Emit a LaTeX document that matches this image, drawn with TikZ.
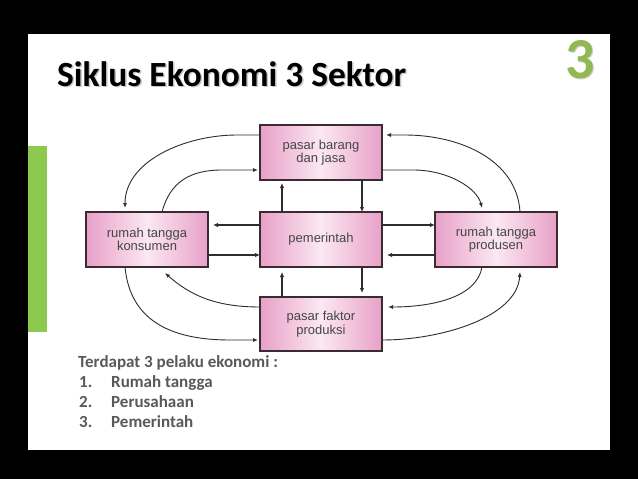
\documentclass[tikz,border=0pt]{standalone}
\usepackage{fontspec}
\setmainfont{Carlito}
\newfontfamily\boxfont{Liberation Sans}
\usetikzlibrary{arrows.meta}
\definecolor{slidegreen}{RGB}{141,200,79}
\definecolor{numgreen}{RGB}{146,184,82}
\definecolor{pinkedge}{RGB}{232,160,200}
\definecolor{pinkmid}{RGB}{251,232,242}
\definecolor{boxline}{RGB}{60,42,51}
\definecolor{boxtext}{RGB}{70,70,70}
\definecolor{listgray}{RGB}{89,89,89}
\definecolor{arrowcol}{RGB}{45,45,45}
\tikzset{
  pbox/.style={draw=boxline, line width=1.3pt, left color=pinkedge, right color=pinkedge, middle color=pinkmid,
    minimum width=122pt, minimum height=55pt, inner sep=0pt, outer sep=0pt,
    align=center, text=boxtext, font=\boxfont\fontsize{13}{13.5}\selectfont},
  curv/.style={draw=arrowcol, line width=0.9pt, -{Latex[length=5pt,width=4pt]}},
  strt/.style={draw=arrowcol, line width=1.4pt, -{Latex[length=5pt,width=4.5pt]}},
  listtxt/.style={text=listgray, font=\bfseries\fontsize{17}{20}\selectfont, inner sep=0pt, anchor=base west}
}
\begin{document}
\begin{tikzpicture}[x=1pt,y=-1pt]
\useasboundingbox (0,0) rectangle (638,479);
\fill[black] (0,0) rectangle (638,479);
\fill[white] (28,34) rectangle (610,450);
\fill[slidegreen] (28,146) rectangle (47,332);
% title
\node[anchor=base west, inner sep=0pt, text=black!22, font=\bfseries\fontsize{35.4}{38}\selectfont] (titleshadow) at (58.5,87.5) {Siklus Ekonomi 3 Sektor};
\node[anchor=base west, inner sep=0pt, text=black, font=\bfseries\fontsize{35.4}{38}\selectfont] (title) at (57,86) {Siklus Ekonomi 3 Sektor};
\node[anchor=base west, inner sep=0pt, text=black!18, font=\bfseries\fontsize{58}{60}\selectfont] (numshadow) at (566.5,79) {3};
\node[anchor=base west, inner sep=0pt, text=numgreen, font=\bfseries\fontsize{58}{60}\selectfont] (num) at (565,78) {3};
% boxes
\node[pbox] (pb) at (321,152.5) {pasar barang\\dan jasa};
\node[pbox] (rk) at (147,239.5) {rumah tangga\\konsumen};
\node[pbox] (pm) at (321,239.5) {pemerintah};
\node[pbox, minimum height=54pt] (pf) at (321,324) {pasar faktor\\produksi};
\node[pbox] (rp) at (496,239.5) {rumah tangga\\produsen};
% straight arrows
\draw[strt] ([yshift=14.5pt]pm.west) -- ([yshift=14.5pt,xshift=5pt]rk.east);
\draw[strt] ([yshift=-15.5pt]rk.east) -- ([yshift=-15.5pt]pm.west);
\draw[strt] ([yshift=14.5pt]pm.east) -- ([yshift=14.5pt]rp.west);
\draw[strt] ([yshift=-15.5pt]rp.west) -- ([yshift=-15.5pt,xshift=5pt]pm.east);
\draw[strt] ([xshift=-39pt]pm.north) -- ([xshift=-39pt,yshift=-3pt]pb.south);
\draw[strt] ([xshift=-39pt]pf.north) -- ([xshift=-39pt,yshift=-5pt]pm.south);
\draw[strt] ([xshift=41pt]pb.south) -- ([xshift=41pt]pm.north);
\draw[strt] ([xshift=41pt]pm.south) -- ([xshift=41pt,yshift=4pt]pf.north);
% curved arrows left
\draw[curv] ([yshift=17.5pt]pb.west) -- ++(-23,0) .. controls +(-52,0) and +(0,-47) .. ([xshift=-22pt,yshift=4pt]rk.north);
\draw[curv] ([xshift=15pt]rk.north) .. controls +(8,-30) and +(-32,0) .. ([yshift=-17.5pt,xshift=-38pt]pb.west) -- ([yshift=-17.5pt,xshift=-2pt]pb.west);
\draw[curv] ([yshift=17pt]pf.west) .. controls +(-45,0) and +(25,22) .. ([xshift=18pt,yshift=-6pt]rk.south);
\draw[curv] ([xshift=-22pt]rk.south) .. controls +(5,53) and +(-60,0) .. ([yshift=-16pt,xshift=-30pt]pf.west) -- ([yshift=-16pt,xshift=-2pt]pf.west);
% curved arrows right
\draw[curv] ([xshift=24pt]rp.north) .. controls +(-3,-52) and +(55,0) .. ([yshift=17.5pt,xshift=23pt]pb.east) -- ([yshift=17.5pt,xshift=4pt]pb.east);
\draw[curv] ([yshift=-17.5pt]pb.east) -- ++(31,0) .. controls +(35,0) and +(-5,-20) .. ([xshift=-14pt,yshift=4pt]rp.north);
\draw[curv] ([xshift=-14pt]rp.south) .. controls +(-5,30) and +(45,0) .. ([yshift=17pt,xshift=6pt]pf.east);
\draw[curv] ([yshift=-16pt]pf.east) .. controls +(60,0) and +(-3,45) .. ([xshift=24pt,yshift=-5pt]rp.south);
% list
\node[listtxt] (l0) at (78,367) {Terdapat 3 pelaku ekonomi :};
\node[listtxt] (n1) at (79,387) {1.};
\node[listtxt] (t1) at (111,387) {Rumah tangga};
\node[listtxt] (n2) at (79,407) {2.};
\node[listtxt] (t2) at (111,407) {Perusahaan};
\node[listtxt] (n3) at (79,427) {3.};
\node[listtxt] (t3) at (111,427) {Pemerintah};
\end{tikzpicture}
\end{document}
